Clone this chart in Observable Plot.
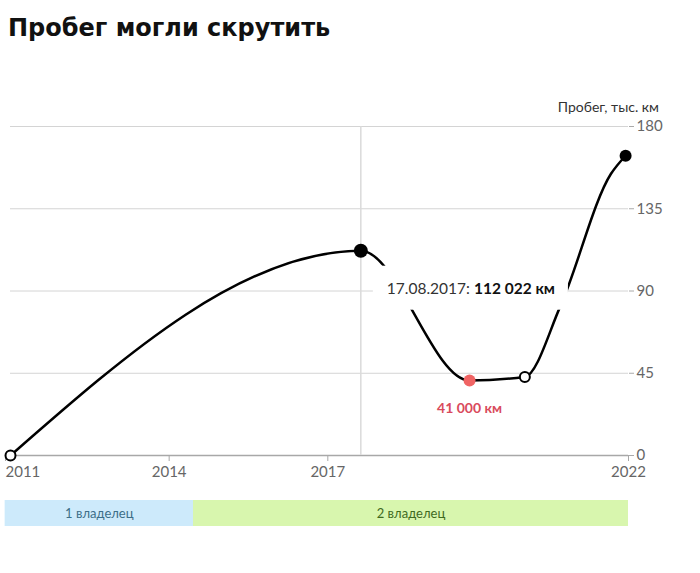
<!DOCTYPE html>
<html><head><meta charset="utf-8">
<script src="https://cdn.jsdelivr.net/npm/d3@7"></script>
<script src="https://cdn.jsdelivr.net/npm/@observablehq/plot@0.6"></script>
<style>
body{margin:0;background:#fff;}
#wrap{position:relative;width:700px;height:573px;overflow:hidden;background:#fff;}
#title{position:absolute;left:8px;top:16px;font-family:"DejaVu Sans";font-weight:bold;font-size:24px;line-height:24px;color:#111;white-space:nowrap;}
#ylabel{position:absolute;right:41px;top:99px;font-family:Lato;font-size:14px;line-height:1.2;color:#333;white-space:nowrap;}
#chart{position:absolute;left:0;top:60px;}
#owners{position:absolute;left:0;top:490px;}
</style></head><body>
<div id="wrap">
<div id="title">Пробег могли скрутить</div>
<div id="ylabel">Пробег, тыс. км</div>
<div id="chart"></div>
<div id="owners"></div>
</div>
<script>
// ---- data ----
const recordDates   = ["2011-01-01","2017-08-17","2019-09-07","2020-09-23","2021-05-28","2022-05-10","2022-08-20"];
const recordMileage = [0, 112.022, 41, 43, 82, 154, 164];   // тыс. км
const recordKind    = ["open","main","low","open","none","none","end"];
const xTickDates    = ["2011-01-01","2014-01-01","2017-01-01","2022-09-09"];
const xTickLabels   = ["2011","2014","2017","2022"];
const yTicks        = [0, 45, 90, 135, 180];
const xDomain       = ["2011-01-01","2022-09-09"];
const highlightDate = "2017-08-17";
const ownerNames    = ["1 владелец","2 владелец"];
const ownerStart    = ["2010-11-25","2014-06-18"];
const ownerEnd      = ["2014-06-18","2022-09-09"];

// ---- build ----
const parse = s => new Date(s + "T00:00:00Z");
const records = recordDates.map((d, i) => ({date: parse(d), km: recordMileage[i], kind: recordKind[i]}));
const tickMap = new Map(xTickDates.map((d, i) => [+parse(d), xTickLabels[i]]));
const tickDates = xTickDates.map(parse);
const domainX = xDomain.map(parse);
const ru = d3.formatLocale({decimal: ",", thousands: "\u00a0", grouping: [3], currency: ["", ""]});
const fmtKm = v => ru.format(",d")(Math.round(v * 1000)) + "\u00a0км";
const fmtDate = d3.utcFormat("%d.%m.%Y");
const hl = records.filter(r => +r.date === +parse(highlightDate));

const chart = Plot.plot({
  width: 700, height: 420,
  marginLeft: 10, marginRight: 72, marginTop: 66, marginBottom: 25,
  style: {fontFamily: "Lato", fontSize: "15px", color: "#666", background: "transparent", overflow: "visible"},
  x: {type: "utc", domain: domainX},
  y: {domain: [0, 180]},
  marks: [
    Plot.gridY(yTicks, {stroke: "#d4d4d4", strokeOpacity: 1}),
    Plot.axisY(yTicks, {anchor: "right", tickSize: 5, tickPadding: 3, label: null, stroke: "#aaa", fill: "#666", fontSize: 15}),
    Plot.ruleY([0], {stroke: "#a8a8a8", strokeWidth: 1.5}),
    Plot.axisX(tickDates.slice(0, 1), {anchor: "bottom", tickSize: 6, tickPadding: 5, label: null, stroke: "#a8a8a8", fill: "#666", fontSize: 15, textAnchor: "start", dx: -5, tickFormat: d => tickMap.get(+d)}),
    Plot.axisX(tickDates.slice(1), {anchor: "bottom", tickSize: 6, tickPadding: 5, label: null, stroke: "#a8a8a8", fill: "#666", fontSize: 15, tickFormat: d => tickMap.get(+d)}),
    Plot.ruleX(hl, {x: "date", y1: 0, y2: 180, stroke: "#dadada", strokeWidth: 1.5}),
    Plot.line(records, {x: "date", y: "km", curve: "monotone-x", stroke: "#000", strokeWidth: 2.5}),
    Plot.dot(records.filter(r => r.kind === "open"), {x: "date", y: "km", r: 5, fill: "#fff", stroke: "#000", strokeWidth: 2}),
    Plot.dot(records.filter(r => r.kind === "main"), {x: "date", y: "km", r: 7, fill: "#000"}),
    Plot.dot(records.filter(r => r.kind === "end"), {x: "date", y: "km", r: 6, fill: "#000"}),
    Plot.dot(records.filter(r => r.kind === "low"), {x: "date", y: "km", r: 6, fill: "#f06464"}),
    Plot.text(records.filter(r => r.kind === "low"), {x: "date", y: "km", text: d => fmtKm(d.km), dy: 28, fill: "#d94a5c", fontWeight: "bold", fontSize: 14}),
    Plot.text(hl, {x: "date", y: "km", text: d => fmtDate(d.date) + ": " + fmtKm(d.km), textAnchor: "start", dx: 26, dy: 38, fill: "#333", fontSize: 15.5})
  ]
});
document.getElementById("chart").appendChild(chart);

// tooltip: bold value and white box behind it
d3.select(chart).selectAll("text").each(function() {
  const t = this.textContent;
  if (!t.startsWith(fmtDate(parse(highlightDate)))) return;
  const parts = t.split(": ");
  this.textContent = "";
  d3.select(this).append("tspan").text(parts[0] + ": ");
  d3.select(this).append("tspan").attr("font-weight", "bold").attr("fill", "#111").text(parts[1]);
  const bb = this.getBBox();
  const rect = document.createElementNS("http://www.w3.org/2000/svg", "rect");
  rect.setAttribute("x", bb.x - 14);
  rect.setAttribute("y", bb.y + bb.height / 2 - 22);
  rect.setAttribute("width", bb.width + 27);
  rect.setAttribute("height", 44);
  rect.setAttribute("fill", "#fff");
  if (this.getAttribute("transform")) rect.setAttribute("transform", this.getAttribute("transform"));
  this.parentNode.insertBefore(rect, this);
});

// owners bar
const owners = ownerNames.map((n, i) => ({name: n, start: parse(ownerStart[i]), end: parse(ownerEnd[i])}));
const ownerFill = ["#cdeafb", "#d8f6ae"];
const ownerText = ["#3c6e88", "#3f6a1e"];
const ownerMarks = [];
owners.forEach((o, i) => {
  ownerMarks.push(Plot.rect([o], {x1: "start", x2: "end", fill: ownerFill[i]}));
});
owners.forEach((o, i) => {
  ownerMarks.push(Plot.text([o], {x: d => new Date((+d.start + +d.end) / 2), text: "name", fill: ownerText[i], fontSize: 13}));
});
const ownersPlot = Plot.plot({
  width: 700, height: 36,
  marginLeft: 10, marginRight: 72, marginTop: 10, marginBottom: 0,
  style: {fontFamily: "Lato", fontSize: "13px", background: "transparent", overflow: "visible"},
  x: {type: "utc", domain: domainX, axis: null},
  marks: ownerMarks
});
document.getElementById("owners").appendChild(ownersPlot);
// round the outer corners of the owners bar
(function() {
  const svg = d3.select(ownersPlot);
  const rects = svg.selectAll("rect").nodes().filter(n => n.getAttribute("fill"));
  if (!rects.length) return;
  let x0 = Infinity, x1 = -Infinity, y0 = Infinity, y1 = -Infinity;
  rects.forEach(r => { const b = r.getBBox(); x0 = Math.min(x0, b.x); x1 = Math.max(x1, b.x + b.width); y0 = Math.min(y0, b.y); y1 = Math.max(y1, b.y + b.height); });
  const defs = svg.insert("defs", ":first-child");
  defs.append("clipPath").attr("id", "ownerclip").append("rect")
    .attr("x", x0).attr("y", y0).attr("width", x1 - x0).attr("height", y1 - y0).attr("rx", 5);
  rects.forEach(r => r.parentNode.setAttribute("clip-path", "url(#ownerclip)"));
})();
</script>
</body></html>
